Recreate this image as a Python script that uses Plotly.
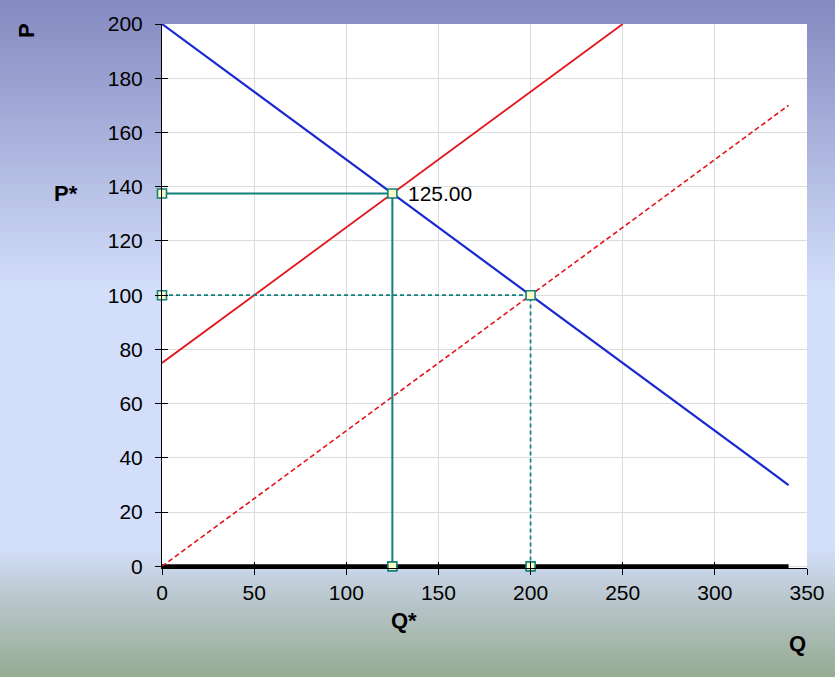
import plotly.graph_objects as go

# demand and the two supply curves (Q, P)
demand_q = [0, 340]
demand_p = [200, 30]
supply_q = [0, 250]
supply_p = [75, 200]
supply0_q = [0, 340]
supply0_p = [0, 170]

# axis baseline drawn as a thick black series
base_q = [0, 340]
base_p = [0, 0]

# equilibrium with tax and without
q_star = 125
p_star = 137.5
q_old = 200
p_old = 100
eq_label = "125.00"

teal = "#12807d"
red = "#e3151b"
blue = "#1a28d2"

fig = go.Figure()

fig.add_trace(go.Scatter(x=base_q, y=base_p, mode="lines",
                         line=dict(color="black", width=4), cliponaxis=False))
fig.add_trace(go.Scatter(x=supply0_q, y=supply0_p, mode="lines",
                         line=dict(color=red, width=1.6, dash="5px,3px")))
fig.add_trace(go.Scatter(x=supply_q, y=supply_p, mode="lines",
                         line=dict(color=red, width=1.8)))
fig.add_trace(go.Scatter(x=demand_q, y=demand_p, mode="lines",
                         line=dict(color=blue, width=2.2)))

sq = dict(symbol="square", size=9, color="#fdfcc6", line=dict(color=teal, width=1.6))
# solid guide to the new equilibrium (on the overlay axes, so they sit on top)
fig.add_trace(go.Scatter(x=[0, q_star, q_star], y=[p_star, p_star, 0],
                         mode="lines+markers", line=dict(color=teal, width=2),
                         marker=sq, cliponaxis=False, xaxis="x2", yaxis="y2"))
# dashed guide to the old equilibrium
fig.add_trace(go.Scatter(x=[0, q_old, q_old], y=[p_old, p_old, 0],
                         mode="lines+markers", line=dict(color=teal, width=1.7, dash="4px,3px"),
                         marker=sq, cliponaxis=False, xaxis="x2", yaxis="y2"))

fig.add_annotation(x=q_star, y=p_star, xref="x", yref="y", text=eq_label,
                   showarrow=False, xanchor="left", yanchor="middle", xshift=14,
                   font=dict(size=21, color="black"))

# background gradient, built from thin bands in paper coords
W, H = 835, 677
L, R, T, B = 162, 28, 24, 109
pw, ph = W - L - R, H - T - B
stops = [(0, (0x84, 0x89, 0xc0)), (290, (0xd3, 0xde, 0xfa)), (548, (0xd3, 0xde, 0xfa)),
         (600, (0xb9, 0xc6, 0xcc)), (677, (0x96, 0xab, 0x92))]


def col_at(py):
    for (y0, c0), (y1, c1) in zip(stops[:-1], stops[1:]):
        if y0 <= py <= y1:
            t = (py - y0) / (y1 - y0)
            return "rgb(%d,%d,%d)" % tuple(round(a + (b - a) * t) for a, b in zip(c0, c1))
    return "rgb(150,171,146)"


shapes = []
step = 4
for py in range(0, H, step):
    shapes.append(dict(type="rect", xref="paper", yref="paper", layer="below",
                       x0=-L / pw, x1=(W - L) / pw,
                       y0=(H - B - py - step - 0.5) / ph, y1=(H - B - py) / ph,
                       line=dict(width=0), fillcolor=col_at(py + step / 2)))
shapes.append(dict(type="rect", xref="paper", yref="paper", layer="below",
                   x0=0, x1=1, y0=0, y1=1, line=dict(width=0), fillcolor="white"))

lab = dict(size=22, color="black", family="Liberation Sans, Arial, sans-serif")


def px_note(text, px, py, angle=0):
    fig.add_annotation(x=(px - L) / pw, y=(H - B - py) / ph, xref="paper", yref="paper",
                       text=text, textangle=angle, showarrow=False, font=lab,
                       xanchor="center", yanchor="middle")


px_note("<b>P</b>", 27, 31, -90)
px_note("<b>P*</b>", 66, 193)
px_note("<b>Q*</b>", 404, 620)
px_note("<b>Q</b>", 797, 643)

axis_common = dict(showgrid=True, gridcolor="#dcdcdc", gridwidth=1, showline=True,
                   linecolor="black", linewidth=1, ticks="outside", ticklen=6,
                   tickcolor="black", zeroline=False, automargin=False)
# overlay axes only add the inner half of the crossing tick marks
overlay_common = dict(showgrid=False, showline=False, ticks="inside", ticklen=6,
                      tickcolor="black", showticklabels=False, zeroline=False,
                      automargin=False)

fig.update_layout(
    width=W, height=H,
    margin=dict(l=L, r=R, t=T, b=B, pad=0, autoexpand=False),
    showlegend=False,
    paper_bgcolor="#d3defa",
    plot_bgcolor="rgba(0,0,0,0)",
    font=dict(family="Liberation Sans, Arial, sans-serif", size=21, color="black"),
    shapes=shapes,
    xaxis=dict(range=[0, 350], tick0=0, dtick=50, **axis_common),
    yaxis=dict(range=[-0.6, 200], tick0=0, dtick=20, ticklabelstandoff=8, **axis_common),
    xaxis2=dict(range=[0, 350], tick0=0, dtick=50, overlaying="x", anchor="y2",
                side="bottom", **overlay_common),
    yaxis2=dict(range=[-0.6, 200], tick0=0, dtick=20, overlaying="y", anchor="x2",
                side="left", **overlay_common),
)

fig.write_html("out.html", config={"displayModeBar": False},
               post_script="document.body.style.margin='0';")
